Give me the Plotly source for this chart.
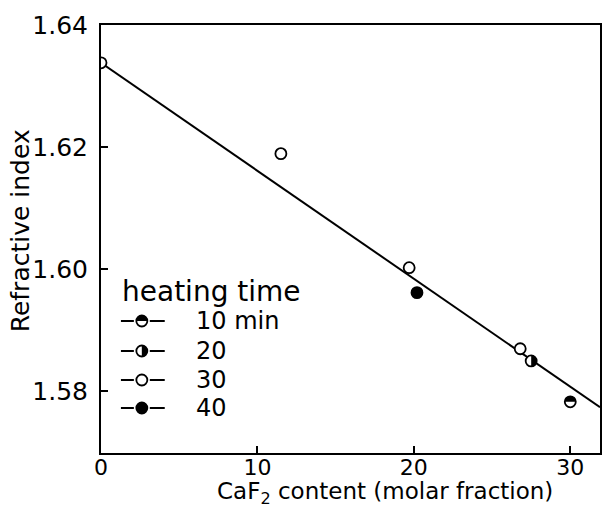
import plotly.graph_objects as go

# Refractive index vs CaF2 content, grouped by heating time
x_10min = [30.0]
y_10min = [1.5782]
x_20min = [27.5]
y_20min = [1.5849]
x_30min = [0.0, 11.5, 19.7, 26.8]
y_30min = [1.6338, 1.6189, 1.6002, 1.5869]
x_40min = [20.2]
y_40min = [1.5961]

# straight-line fit through the data
fit_x = [0.0, 31.9]
fit_y = [1.6338, 1.5773]

x_ticks = [0, 10, 20, 30]
y_ticks = [1.58, 1.60, 1.62, 1.64]
y_tick_text = ["1.58", "1.60", "1.62", "1.64"]

x_title = "CaF<sub>2</sub> content (molar fraction)"
y_title = "Refractive index"
legend_title = "heating time"
legend_labels = ["10 min", "20", "30", "40"]

FONT = "DejaVu Sans"
R = 5.5          # marker radius in px
K = 0.5523 * R   # bezier constant for quarter arcs

fig = go.Figure()

fig.add_trace(go.Scatter(x=fit_x, y=fit_y, mode="lines",
                         line=dict(color="black", width=2), showlegend=False))

def add_points(xs, ys, fill):
    fig.add_trace(go.Scatter(
        x=xs, y=ys, mode="markers", showlegend=False,
        marker=dict(symbol="circle", size=2 * R, color=fill,
                    line=dict(color="black", width=1.8))))

add_points(x_30min, y_30min, "white")
add_points(x_40min, y_40min, "black")
add_points(x_20min, y_20min, "white")
add_points(x_10min, y_10min, "white")

TOP_HALF = f"M {-R},0 C {-R},{K} {-K},{R} 0,{R} C {K},{R} {R},{K} {R},0 Z"
RIGHT_HALF = f"M 0,{-R} C {K},{-R} {R},{-K} {R},0 C {R},{K} {K},{R} 0,{R} Z"

shapes = []

def half_fill(xa, ya, path, xref="x", yref="y"):
    shapes.append(dict(type="path", xref=xref, yref=yref,
                       xsizemode="pixel", ysizemode="pixel",
                       xanchor=xa, yanchor=ya, path=path,
                       fillcolor="black", line=dict(width=0), layer="above"))

for xv, yv in zip(x_10min, y_10min):
    half_fill(xv, yv, TOP_HALF)
for xv, yv in zip(x_20min, y_20min):
    half_fill(xv, yv, RIGHT_HALF)

# page layout in pixels
W, H = 604, 511
ML, MR, MT, MB = 101, 2, 25, 58
PW, PH = W - ML - MR, H - MT - MB

def px(xp):
    return (xp - ML) / PW

def py(yp):
    return 1 - (yp - MT) / PH

annotations = [
    dict(xref="paper", yref="paper", x=px(120), y=py(291), text=legend_title,
         showarrow=False, xanchor="left", yanchor="middle",
         font=dict(family=FONT, size=28, color="black")),
    dict(xref="paper", yref="paper", x=px(386), y=py(510), text=x_title,
         showarrow=False, xanchor="center", yanchor="bottom",
         font=dict(family=FONT, size=23, color="black")),
    dict(xref="paper", yref="paper", x=px(20), y=py(231), text=y_title,
         textangle=-90, showarrow=False, xanchor="center", yanchor="middle",
         font=dict(family=FONT, size=25, color="black")),
]

# hand-built legend rows: dash, marker, dash, label
row_y = [321, 351, 380, 408]
fills = ["white", "white", "white", "black"]
halves = [TOP_HALF, RIGHT_HALF, None, None]
for lab, yy, fc, hp in zip(legend_labels, row_y, fills, halves):
    shapes.append(dict(type="line", xref="paper", yref="paper",
                       x0=px(121), x1=px(134), y0=py(yy), y1=py(yy),
                       line=dict(color="black", width=2)))
    shapes.append(dict(type="line", xref="paper", yref="paper",
                       x0=px(150), x1=px(165), y0=py(yy), y1=py(yy),
                       line=dict(color="black", width=2)))
    shapes.append(dict(type="circle", xref="paper", yref="paper",
                       xsizemode="pixel", ysizemode="pixel",
                       xanchor=px(142), yanchor=py(yy),
                       x0=-R, x1=R, y0=-R, y1=R, fillcolor=fc,
                       line=dict(color="black", width=1.8)))
    if hp:
        half_fill(px(142), py(yy), hp, xref="paper", yref="paper")
    annotations.append(dict(xref="paper", yref="paper", x=px(194), y=py(yy),
                            text=lab, showarrow=False, xanchor="left",
                            yanchor="middle",
                            font=dict(family=FONT, size=24, color="black")))

fig.update_layout(
    width=W, height=H,
    margin=dict(l=ML, r=MR, t=MT, b=MB),
    paper_bgcolor="white", plot_bgcolor="white",
    font=dict(family=FONT, size=24, color="black"),
    shapes=shapes, annotations=annotations,
    showlegend=False,
)
fig.update_xaxes(range=[0, 31.9], tickvals=x_ticks, ticks="inside", ticklen=7,
                 tickwidth=2, tickcolor="black", showline=True, linecolor="black",
                 linewidth=2, mirror=True, showgrid=False, zeroline=False,
                 tickfont=dict(family=FONT, size=22), ticklabelstandoff=-6)
fig.update_yaxes(range=[1.5698, 1.64], tickvals=y_ticks, ticktext=y_tick_text,
                 ticks="inside", ticklen=7, tickwidth=2, tickcolor="black",
                 showline=True, linecolor="black", linewidth=2, mirror=True,
                 showgrid=False, zeroline=False,
                 tickfont=dict(family=FONT, size=25), ticklabelstandoff=6)

fig.write_html("out.html")
